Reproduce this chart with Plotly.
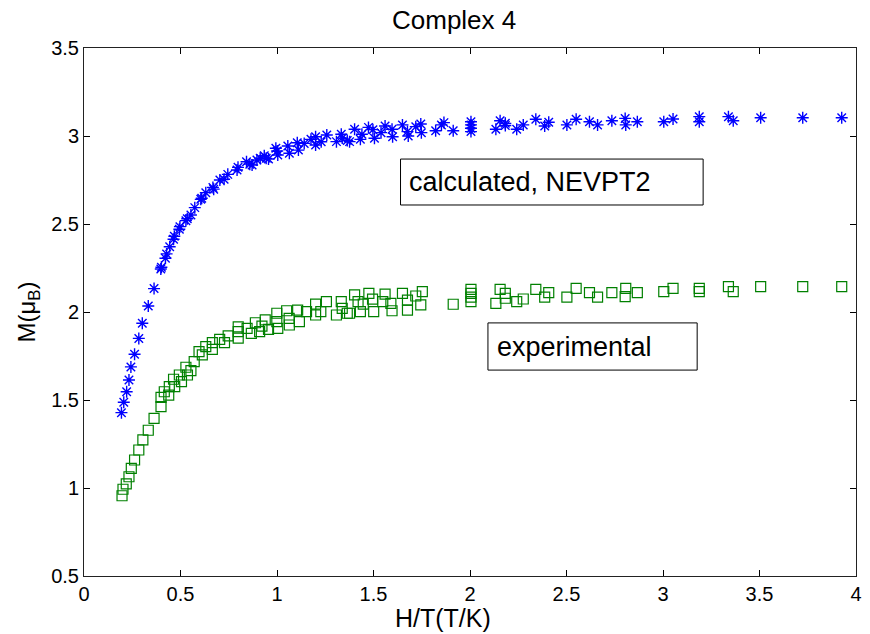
import plotly.graph_objects as go

# Calculated magnetisation (NEVPT2), M in Bohr magnetons vs H/T
calc_x = [0.194, 0.206, 0.221, 0.233, 0.243, 0.262, 0.284, 0.302, 0.333, 0.363,
          0.398, 0.401, 0.422, 0.428, 0.444, 0.464, 0.468, 0.494, 0.497, 0.528,
          0.535, 0.554, 0.574, 0.605, 0.610, 0.631, 0.668, 0.672, 0.704, 0.726,
          0.745, 0.793, 0.798, 0.842, 0.859, 0.871, 0.896, 0.913, 0.934, 0.944,
          0.956, 0.994, 1.001, 1.004, 1.056, 1.064, 1.105, 1.111, 1.141, 1.176,
          1.200, 1.200, 1.229, 1.258, 1.308, 1.333, 1.338, 1.364, 1.376, 1.402,
          1.432, 1.440, 1.474, 1.497, 1.505, 1.539, 1.560, 1.596, 1.599, 1.650,
          1.676, 1.680, 1.719, 1.745, 1.748, 1.822, 1.852, 1.865, 1.913, 2.005,
          2.005, 2.005, 2.005, 2.134, 2.156, 2.183, 2.183, 2.242, 2.276, 2.341,
          2.387, 2.408, 2.502, 2.550, 2.619, 2.661, 2.735, 2.804, 2.807, 2.867,
          3.004, 3.052, 3.188, 3.188, 3.339, 3.364, 3.506, 3.724, 3.926]
calc_y = [1.428, 1.487, 1.547, 1.614, 1.688, 1.760, 1.850, 1.936, 2.034, 2.133,
          2.244, 2.254, 2.305, 2.330, 2.371, 2.413, 2.430, 2.470, 2.485, 2.519,
          2.530, 2.551, 2.593, 2.640, 2.646, 2.678, 2.708, 2.698, 2.750, 2.754,
          2.782, 2.807, 2.822, 2.854, 2.840, 2.835, 2.864, 2.874, 2.888, 2.873,
          2.869, 2.930, 2.915, 2.892, 2.943, 2.902, 2.962, 2.920, 2.958, 2.981,
          2.996, 2.949, 2.967, 3.006, 2.968, 3.010, 2.988, 2.975, 2.968, 3.038,
          2.981, 3.010, 3.049, 3.036, 2.987, 3.019, 3.057, 3.038, 2.996, 3.063,
          3.025, 3.000, 3.053, 3.068, 3.019, 3.030, 3.063, 3.076, 3.030, 3.081,
          3.063, 3.044, 3.025, 3.038, 3.087, 3.072, 3.060, 3.038, 3.063, 3.095,
          3.057, 3.078, 3.063, 3.095, 3.081, 3.063, 3.087, 3.100, 3.063, 3.081,
          3.081, 3.097, 3.110, 3.081, 3.110, 3.087, 3.104, 3.104, 3.104]

# Experimental magnetisation
exp_x = [0.197, 0.202, 0.219, 0.233, 0.245, 0.262, 0.284, 0.305, 0.333, 0.363,
         0.399, 0.399, 0.416, 0.439, 0.442, 0.470, 0.464, 0.494, 0.505, 0.528,
         0.536, 0.554, 0.571, 0.596, 0.613, 0.631, 0.665, 0.665, 0.703, 0.728,
         0.747, 0.799, 0.799, 0.799, 0.845, 0.867, 0.888, 0.910, 0.922, 0.939,
         0.956, 0.999, 0.999, 1.004, 1.050, 1.063, 1.064, 1.107, 1.116, 1.153,
         1.200, 1.200, 1.227, 1.256, 1.308, 1.333, 1.338, 1.364, 1.376, 1.402,
         1.420, 1.432, 1.447, 1.476, 1.501, 1.495, 1.548, 1.560, 1.590, 1.596,
         1.650, 1.676, 1.676, 1.719, 1.753, 1.745, 1.913, 2.005, 2.005, 2.005,
         2.005, 2.134, 2.156, 2.183, 2.183, 2.242, 2.276, 2.341, 2.387, 2.408,
         2.502, 2.550, 2.619, 2.661, 2.735, 2.807, 2.804, 2.867, 3.004, 3.052,
         3.188, 3.188, 3.339, 3.364, 3.506, 3.724, 3.926]
exp_y = [0.956, 0.993, 1.023, 1.064, 1.112, 1.159, 1.216, 1.273, 1.328, 1.396,
         1.462, 1.515, 1.547, 1.528, 1.576, 1.576, 1.618, 1.642, 1.604, 1.686,
         1.642, 1.667, 1.718, 1.775, 1.756, 1.803, 1.788, 1.826, 1.845, 1.826,
         1.864, 1.851, 1.888, 1.916, 1.907, 1.879, 1.939, 1.888, 1.920, 1.955,
         1.901, 1.993, 1.945, 1.907, 2.007, 1.964, 1.926, 2.011, 1.945, 2.002,
         2.045, 1.983, 2.002, 2.059, 1.983, 2.059, 2.021, 1.993, 1.993, 2.097,
         2.059, 2.002, 2.045, 2.106, 2.002, 2.073, 2.059, 2.102, 2.049, 2.007,
         2.106, 2.011, 2.068, 2.091, 2.116, 2.040, 2.044, 2.129, 2.106, 2.084,
         2.059, 2.049, 2.129, 2.106, 2.078, 2.059, 2.074, 2.129, 2.084, 2.110,
         2.084, 2.134, 2.110, 2.084, 2.110, 2.134, 2.087, 2.110, 2.116, 2.134,
         2.134, 2.116, 2.144, 2.116, 2.144, 2.144, 2.144]

x_ticks = [0, 0.5, 1, 1.5, 2, 2.5, 3, 3.5, 4]
x_tick_text = ["0", "0.5", "1", "1.5", "2", "2.5", "3", "3.5", "4"]
y_ticks = [0.5, 1, 1.5, 2, 2.5, 3, 3.5]
y_tick_text = ["0.5", "1", "1.5", "2", "2.5", "3", "3.5"]

FONT = "Arial, Liberation Sans, sans-serif"

fig = go.Figure()
fig.add_trace(go.Scatter(
    x=calc_x, y=calc_y, mode="markers", name="calculated, NEVPT2",
    marker=dict(symbol="asterisk-open", size=10, color="#0000ff",
                line=dict(color="#0000ff", width=1.4)),
))
fig.add_trace(go.Scatter(
    x=exp_x, y=exp_y, mode="markers", name="experimental",
    marker=dict(symbol="square-open", size=10, color="#008000",
                line=dict(color="#008000", width=1.2)),
))

axis_common = dict(
    showgrid=False, zeroline=False, showline=True, linecolor="#222222",
    linewidth=1, mirror="ticks", ticks="inside", ticklen=6, tickcolor="#000000",
    tickfont=dict(family=FONT, size=20, color="#000000"),
)
fig.update_xaxes(range=[0, 4], tickvals=x_ticks, ticktext=x_tick_text, **axis_common)
fig.update_yaxes(range=[0.5, 3.5], tickvals=y_ticks, ticktext=y_tick_text,
                 title=dict(text="M(μ<sub>B</sub>)", font=dict(family=FONT, size=24, color="#000000"),
                            standoff=8),
                 **axis_common)

# x-axis label, sitting slightly left of the axis centre
fig.add_annotation(x=0.465, y=-0.08, xref="paper", yref="paper", xanchor="center",
                   yanchor="middle", text="H/T(T/K)", showarrow=False,
                   font=dict(family=FONT, size=25, color="#000000"))

# Boxed labels for the two data sets
label_boxes = [
    dict(x0=1.640, x1=3.208, y0=2.608, y1=2.869, tx=1.676, ty=2.739,
         text="calculated, NEVPT2"),
    dict(x0=2.093, x1=3.177, y0=1.670, y1=1.938, tx=2.128, ty=1.804,
         text="experimental"),
]
for b in label_boxes:
    fig.add_shape(type="rect", xref="x", yref="y", x0=b["x0"], x1=b["x1"],
                  y0=b["y0"], y1=b["y1"], line=dict(color="#000000", width=1),
                  fillcolor="#ffffff", layer="above")
    fig.add_annotation(x=b["tx"], y=b["ty"], xref="x", yref="y", xanchor="left",
                       yanchor="middle", text=b["text"], showarrow=False,
                       font=dict(family=FONT, size=27, color="#000000"))

fig.update_layout(
    width=870, height=634,
    margin=dict(l=84, r=8, t=48, b=58),
    paper_bgcolor="#ffffff", plot_bgcolor="#ffffff",
    showlegend=False,
    title=dict(text="Complex 4", x=0.522, xanchor="center", y=0.968, yanchor="middle",
               font=dict(family=FONT, size=26, color="#000000")),
)

fig.write_html("out.html")
